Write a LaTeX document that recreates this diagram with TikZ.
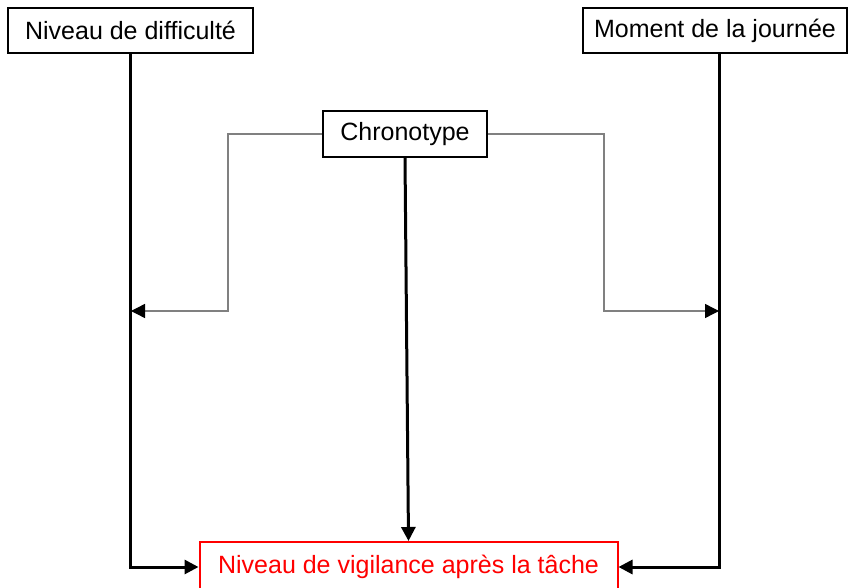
\documentclass[tikz,border=0pt]{standalone}
\usepackage{fontspec}
\setmainfont{Liberation Sans}
\usetikzlibrary{arrows.meta}
\tikzset{
  box/.style={draw=black, line width=2pt, fill=white, inner sep=0pt, font=\fontsize{25}{29}\selectfont, text=black},
  redbox/.style={box, draw=red, text=red},
  thick line/.style={line width=3pt, -{Triangle[length=14pt,width=14pt]}},
  thin line/.style={line width=1.4pt, draw=gray, arrows={-{Triangle[length=14pt,width=14pt,color=black]}}}
}
\begin{document}
\begin{tikzpicture}[x=1pt,y=-1pt]
\useasboundingbox (0,0) rectangle (848,588);
\clip (0,0) rectangle (848,588);
\fill[white] (0,0) rectangle (848,588);
\node[box, minimum width=245pt, minimum height=45pt] (diff) at (130.5,30.5) {Niveau de difficulté};
\node[box, minimum width=264pt, minimum height=45pt] (moment) at (715,30.5) {Moment de la journée};
\node[box, minimum width=164pt, minimum height=46pt] (chrono) at (405,134) {Chronotype};
\node[redbox, minimum width=418pt, minimum height=50pt] (vig) at (408.5,567) {Niveau de vigilance après la tâche};
\coordinate (lt) at (131,311);
\coordinate (rt) at (719,311);
\coordinate (lc) at (228,134);
\coordinate (rc) at (604,134);
\draw[thick line] (diff.south) |- (vig.west);
\draw[thick line] (moment.south -| rt) |- (vig.east);
\draw[thick line] (chrono.south) -- (vig.north);
\draw[thin line] (chrono.west) -- (lc) |- (lt);
\draw[thin line] (chrono.east) -- (rc) |- (rt);
\end{tikzpicture}
\end{document}
